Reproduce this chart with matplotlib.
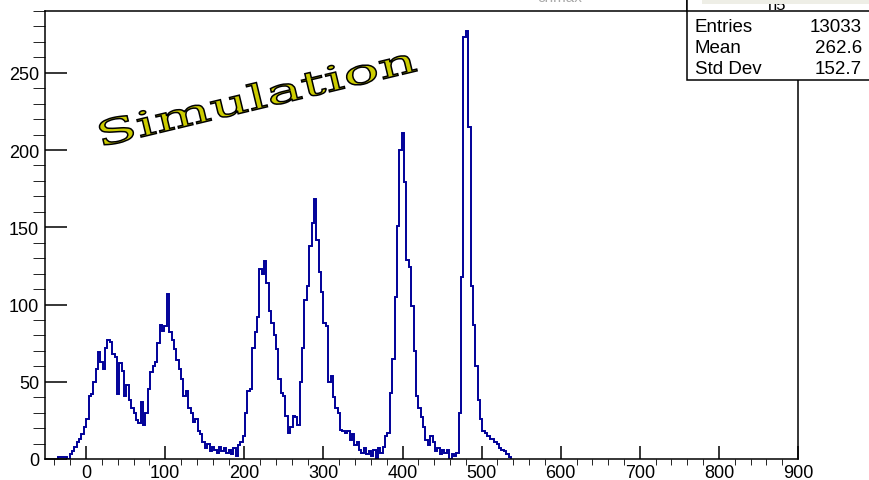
import numpy as np
import matplotlib
matplotlib.use("Agg")
import matplotlib.pyplot as plt
from matplotlib.patches import Rectangle, PathPatch
from matplotlib.textpath import TextPath
from matplotlib.font_manager import FontProperties
from matplotlib.transforms import Affine2D

# histogram: 3-unit bins starting at -36
bin_lo = -36
bin_width = 3
counts = [
    1, 1, 1, 1, 0, 3, 5, 8, 11, 13,                 # -36 .. -6
    16, 21, 26, 41, 42, 50, 58, 69, 63, 58,         # -6 .. 24
    72, 77, 76, 68, 66, 42, 62, 57, 41, 48,         # 24 .. 54
    38, 33, 30, 25, 23, 37, 22, 30, 45, 56,         # 54 .. 84
    60, 63, 75, 87, 83, 86, 107, 82, 77, 71,        # 84 .. 114
    64, 58, 52, 41, 44, 33, 30, 24, 26, 18,         # 114 .. 144
    16, 11, 7, 10, 5, 8, 6, 4, 8, 5,                # 144 .. 174
    7, 4, 6, 3, 7, 2, 9, 11, 15, 30,                # 174 .. 204
    44, 45, 72, 82, 92, 123, 120, 128, 114, 96,     # 204 .. 234
    88, 80, 71, 52, 43, 41, 28, 17, 21, 28,         # 234 .. 264
    27, 22, 50, 72, 103, 112, 138, 153, 168, 142,   # 264 .. 294
    121, 108, 88, 86, 50, 54, 40, 33, 30, 19,       # 294 .. 324
    18, 17, 18, 12, 16, 9, 11, 6, 4, 7,             # 324 .. 354
    3, 5, 2, 6, 0, 7, 4, 8, 15, 17,                 # 354 .. 384
    43, 65, 105, 151, 200, 211, 179, 129, 124, 99,  # 384 .. 414
    70, 41, 33, 27, 21, 12, 9, 15, 11, 5,           # 414 .. 444
    7, 3, 6, 4, 6, 0, 3, 2, 4, 30,                  # 444 .. 474
    118, 273, 277, 215, 112, 87, 60, 38, 26, 18,    # 474 .. 504
    17, 15, 13, 13, 11, 10, 7, 6, 5, 3,             # 504 .. 534
    1,
]
edges = bin_lo + bin_width * np.arange(len(counts) + 1)

stat_names = ["Entries", "Mean", "Std Dev"]
stat_values = ["13033", "262.6", "152.7"]

W, H = 870, 481

def fx(x):
    return x / W

def fy(y):
    return 1 - y / H

fig = plt.figure(figsize=(8.7, 4.81), dpi=100)
ax = fig.add_axes([fx(45), fy(460), (798 - 45) / W, (460 - 12) / H])

ax.stairs(counts, edges, color="#000099", lw=1.4, baseline=0)

ax.set_xlim(-52, 900)
ax.set_ylim(0, 290)
ax.set_xticks(np.arange(0, 901, 100))
ax.set_xticks(np.arange(-40, 901, 20), minor=True)
ax.set_yticks(np.arange(0, 251, 50))
ax.set_yticks(np.arange(0, 291, 10), minor=True)

ax.tick_params(direction="in", width=1.1, labelsize=13)
ax.tick_params(axis="x", which="major", length=9.4, pad=3.5, top=False)
ax.tick_params(axis="x", which="minor", length=4.3, top=False)
ax.tick_params(axis="y", which="major", length=15.8, pad=4.3, right=False)
ax.tick_params(axis="y", which="minor", length=8.6, right=False)
for lab in ax.get_xticklabels() + ax.get_yticklabels():
    lab.set_family("Liberation Sans")
for sp in ax.spines.values():
    sp.set_linewidth(1.1)

# stats box (header is cut off at the top of the picture)
fig.add_artist(Rectangle((fx(687), fy(81)), 1, 81 / H + 0.05,
                         transform=fig.transFigure, fc="white", ec="black", lw=1.1, zorder=5))
fig.add_artist(Rectangle((fx(687), fy(12)), 1, 0.05,
                         transform=fig.transFigure, fc="white", ec="black", lw=1.1, zorder=5))
fig.text(fx(777), fy(10.5), "h5", ha="center", va="baseline", fontsize=12,
         family="Liberation Sans", zorder=6)
fig.add_artist(Rectangle((fx(702), fy(5)), 1, 0.05,
                         transform=fig.transFigure, fc="#eeeee6", ec="none", zorder=7))
fig.text(fx(560), fy(2.5), "chmax", ha="center", va="baseline", fontsize=11,
         family="Liberation Sans", color="#aaaaaa")

row_y = [27, 49, 70]
for name, val, yy in zip(stat_names, stat_values, row_y):
    fig.text(fx(695), fy(yy), name, ha="left", va="center", fontsize=13.5,
             family="Liberation Sans", zorder=8)
    fig.text(fx(862), fy(yy), val, ha="right", va="center", fontsize=13.5,
             family="Liberation Sans", zorder=8)

# slanted outlined "Simulation" label
fp = FontProperties(family="DejaVu Serif")
tp = TextPath((0, 0), "Simulation", size=1, prop=fp)
bb = tp.get_extents()
cap = TextPath((0, 0), "S", size=1, prop=fp).get_extents().height
sx = 322 / bb.width
sy = 26 / cap
tr = Affine2D().translate(-bb.x0, 0).scale(sx, sy).rotate_deg(13.5).translate(104, H - 147)
fig.add_artist(PathPatch(tp, transform=tr, fc="#cccc00", ec="black", lw=1.1, zorder=9))

fig.savefig("out.png", dpi=100)
